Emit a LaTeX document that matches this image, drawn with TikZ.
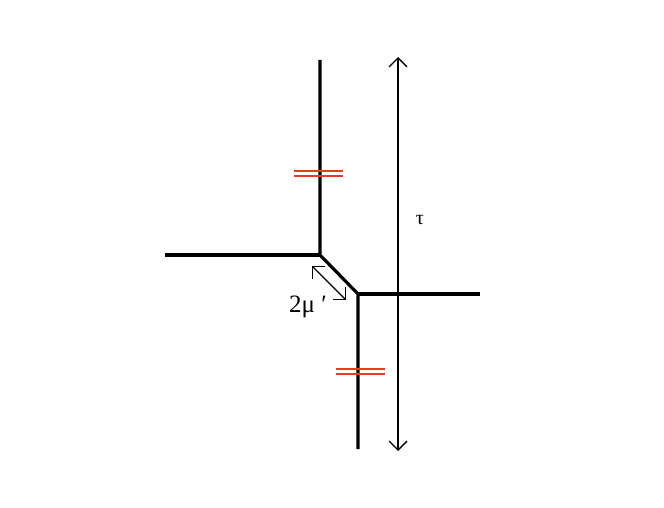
\documentclass[tikz,border=0pt]{standalone}
\usepackage{fontspec}
\setmainfont{Liberation Serif}
\usetikzlibrary{arrows.meta}

\begin{document}
\begin{tikzpicture}[x=1pt,y=-1pt]
			\tikzset{leg/.style={line width=3.2pt,black},
				tick/.style={line width=1.8pt,color={rgb,255:red,228;green,62;blue,30}},
				gauge/.style={line width=1.4pt,{Straight Barb[length=9pt,width=18pt]}-{Straight Barb[length=9pt,width=18pt]}}}
			\useasboundingbox (0,0) rectangle (664,508);
			\coordinate (A) at (320,255);
			\coordinate (B) at (358,294);
			\coordinate (top) at (320,60);
			\coordinate (left) at (165,255);
			\coordinate (right) at (480,294);
			\coordinate (bot) at (358,449);
			\draw[leg] (top) -- (A) -- (B) -- (bot);
			\draw[leg] (left) -- (A);
			\draw[leg] (B) -- (right);

			\draw[tick] (294,171) -- (343,171);
			\draw[tick] (294,176) -- (343,176);
			\draw[tick] (336,369) -- (385,369);
			\draw[tick] (336,374) -- (385,374);

			\coordinate (tauT) at (398,57);
			\coordinate (tauB) at (398,451);
			\draw[gauge] (tauT) -- (tauB);
			\node (tau) at (420,220) {\fontsize{20}{22}\selectfont τ};

			\coordinate (mA) at (312,266);
			\coordinate (mB) at (346,300);
			\draw[gauge] (mA) -- (mB);
			\node[anchor=base west,inner sep=0pt] (mu) at (289,312) {\fontsize{25}{28}\selectfont 2μ ′};
\end{tikzpicture}
\end{document}
